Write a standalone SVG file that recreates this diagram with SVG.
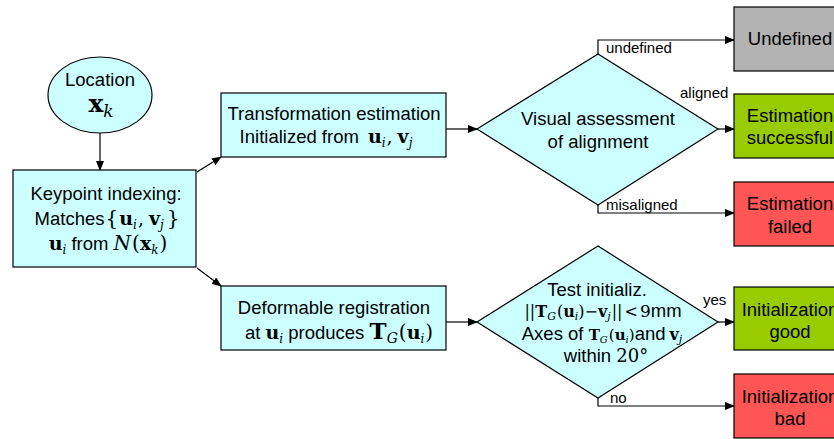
<svg xmlns="http://www.w3.org/2000/svg" width="834" height="439" viewBox="0 0 834 439">
<defs>
<marker id="ah" markerWidth="10" markerHeight="8" refX="9" refY="4" orient="auto" markerUnits="userSpaceOnUse">
<path d="M0,0 L10,4 L0,8 Z" fill="#000"/>
</marker>
<style>
.cy{fill:#ccffff;stroke:#000;stroke-width:1.2}
.gr{fill:#b3b3b3;stroke:#000;stroke-width:1.2}
.gn{fill:#99cc00;stroke:#000;stroke-width:1.2}
.rd{fill:#ff5555;stroke:#000;stroke-width:1.2}
.ln{fill:none;stroke:#000;stroke-width:1.2;marker-end:url(#ah)}
.t{font-family:"Liberation Sans",Arial,sans-serif;font-size:18.5px;fill:#000;text-anchor:middle}
.lb{font-family:"Liberation Sans",Arial,sans-serif;font-size:15px;fill:#000}
.m{font-family:"DejaVu Serif","Liberation Serif",serif}
.b{font-weight:bold}
.i{font-style:italic}
</style>
</defs>

<g id="connectors">
<line class="ln" x1="100" y1="133" x2="100" y2="170"/>
<line class="ln" x1="197" y1="172" x2="221" y2="157"/>
<line class="ln" x1="197" y1="268" x2="221" y2="286"/>
<line class="ln" x1="446" y1="129" x2="477" y2="129"/>
<line class="ln" x1="446" y1="322" x2="477" y2="322"/>
<polyline class="ln" points="598,54 598,40 734,40"/>
<line class="ln" x1="718" y1="129" x2="734" y2="129"/>
<polyline class="ln" points="598,205 598,213 734,213"/>
<line class="ln" x1="718" y1="322" x2="734" y2="322"/>
<polyline class="ln" points="598,398 598,406 734,406"/>
<text class="lb" x="606" y="53">undefined</text>
<text class="lb" x="680" y="98">aligned</text>
<text class="lb" x="606" y="210">misaligned</text>
<text class="lb" x="703" y="305">yes</text>
<text class="lb" x="610" y="403">no</text>
</g>

<g id="location">
<ellipse class="cy" cx="100" cy="95" rx="52" ry="38"/>
<text class="t" x="100" y="86">Location</text>
<text class="t" x="101" y="112"><tspan class="m b" font-size="25">x</tspan><tspan class="m i" font-size="17" dy="5">k</tspan></text>
</g>

<g id="keypoint">
<rect class="cy" x="13" y="170" width="183" height="97"/>
<text class="t" x="106" y="200">Keypoint indexing:</text>
<text class="t" x="107" y="225">Matches<tspan class="m" font-size="20" dx="1">{</tspan><tspan class="m b" font-size="19" dx="1">u</tspan><tspan class="m i" font-size="12" dy="4">i</tspan><tspan class="m" font-size="19" dy="-4" dx="1">,</tspan><tspan class="m b" font-size="19" dx="5">v</tspan><tspan class="m i" font-size="12" dy="4">j</tspan><tspan class="m" font-size="20" dy="-4" dx="3">}</tspan></text>
<text class="t" x="108" y="250"><tspan class="m b" font-size="19">u</tspan><tspan class="m i" font-size="12" dy="4">i</tspan><tspan dy="-4"> from </tspan><tspan class="m i" font-size="20">N</tspan><tspan class="m" font-size="20" dx="1">(</tspan><tspan class="m b" font-size="19">x</tspan><tspan class="m i" font-size="12" dy="4">k</tspan><tspan class="m" font-size="20" dy="-4" dx="1">)</tspan></text>
</g>

<g id="transformation">
<rect class="cy" x="221" y="93" width="225" height="64"/>
<text class="t" x="334" y="120">Transformation estimation</text>
<text class="t" x="326" y="143">Initialized from<tspan class="m b" font-size="19" dx="9">u</tspan><tspan class="m i" font-size="12" dy="4">i</tspan><tspan class="m" font-size="19" dy="-4" dx="1">,</tspan><tspan class="m b" font-size="19" dx="5">v</tspan><tspan class="m i" font-size="12" dy="4">j</tspan></text>
</g>

<g id="deformable">
<rect class="cy" x="221" y="286" width="225" height="64"/>
<text class="t" x="334" y="314">Deformable registration</text>
<text class="t" x="339" y="339">at <tspan class="m b" font-size="19">u</tspan><tspan class="m i" font-size="12" dy="4">i</tspan><tspan dy="-4"> produces </tspan><tspan class="m b" font-size="23">T</tspan><tspan class="m i" font-size="14" dy="4">G</tspan><tspan class="m" font-size="20" dy="-4" dx="1">(</tspan><tspan class="m b" font-size="19">u</tspan><tspan class="m i" font-size="12" dy="4">i</tspan><tspan class="m" font-size="20" dy="-4" dx="1">)</tspan></text>
</g>

<g id="visual">
<polygon class="cy" points="477,129 598,54 718,129 598,205"/>
<text class="t" x="598" y="125">Visual assessment</text>
<text class="t" x="598" y="148">of alignment</text>
</g>

<g id="test">
<polygon class="cy" points="477,322 598,246 718,322 598,398"/>
<text class="t" x="597" y="296">Test initializ.</text>
<text class="t" x="603" y="317"><tspan class="m" font-size="16">||</tspan><tspan class="m b" font-size="16">T</tspan><tspan class="m i" font-size="11" dy="3">G</tspan><tspan class="m" font-size="16" dy="-3" dx="1">(</tspan><tspan class="m b" font-size="16">u</tspan><tspan class="m i" font-size="11" dy="3">i</tspan><tspan class="m" font-size="16" dy="-3">)</tspan><tspan class="m" font-size="16">−</tspan><tspan class="m b" font-size="16">v</tspan><tspan class="m i" font-size="11" dy="3">j</tspan><tspan class="m" font-size="16" dy="-3" dx="1">||</tspan><tspan class="m" font-size="16" dx="2">&lt;</tspan><tspan class="m" font-size="17" dx="2">9</tspan><tspan>mm</tspan></text>
<text class="t" x="602" y="340">Axes of <tspan class="m b" font-size="15">T</tspan><tspan class="m i" font-size="10" dy="3">G</tspan><tspan class="m" font-size="15" dy="-3" dx="1">(</tspan><tspan class="m b" font-size="15">u</tspan><tspan class="m i" font-size="10" dy="3">i</tspan><tspan class="m" font-size="15" dy="-3">)</tspan><tspan>and</tspan><tspan class="m b" font-size="16" dx="4">v</tspan><tspan class="m i" font-size="11" dy="3">j</tspan></text>
<text class="t" x="606" y="362">within <tspan class="m" font-size="18">20°</tspan></text>
</g>

<g id="undefined">
<rect class="gr" x="734" y="7" width="110" height="64"/>
<text class="t" x="790" y="45">Undefined</text>
</g>

<g id="success">
<rect class="gn" x="734" y="94" width="110" height="64"/>
<text class="t" x="790" y="122">Estimation</text>
<text class="t" x="790" y="144">successful</text>
</g>

<g id="failed">
<rect class="rd" x="734" y="182" width="110" height="64"/>
<text class="t" x="790" y="210">Estimation</text>
<text class="t" x="790" y="233">failed</text>
</g>

<g id="good">
<rect class="gn" x="734" y="287" width="110" height="63"/>
<text class="t" x="790" y="316">Initialization</text>
<text class="t" x="790" y="338">good</text>
</g>

<g id="bad">
<rect class="rd" x="734" y="374" width="110" height="64"/>
<text class="t" x="790" y="403">Initialization</text>
<text class="t" x="790" y="425">bad</text>
</g>
</svg>
